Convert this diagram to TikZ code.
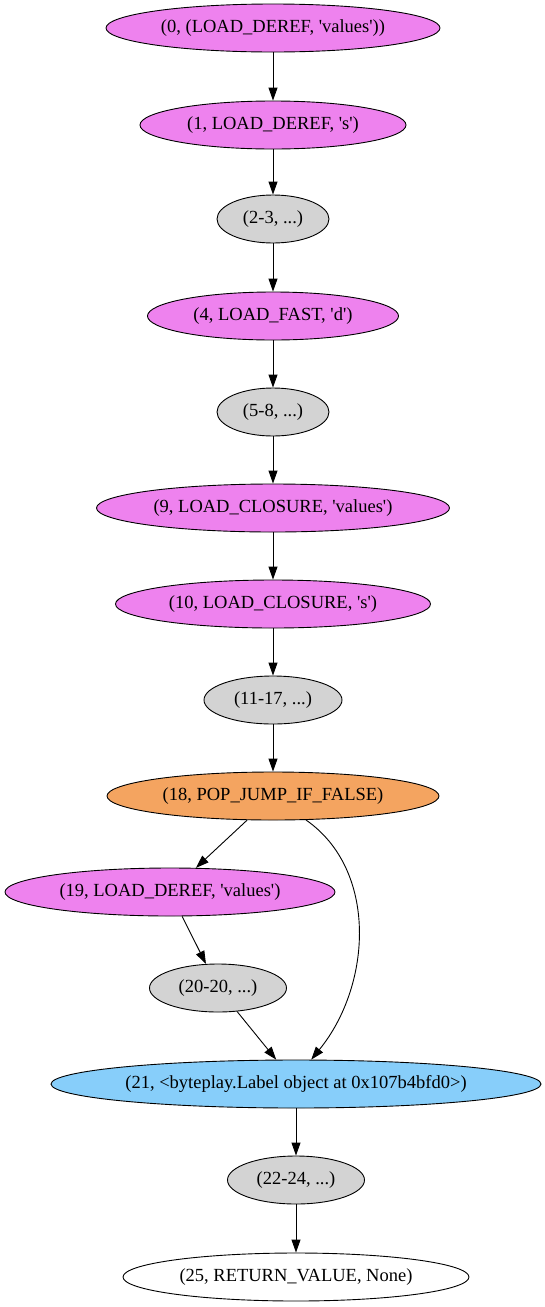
\documentclass[tikz,border=0pt]{standalone}
\usepackage{fontspec}
\setmainfont{Liberation Serif}
\usetikzlibrary{shapes.geometric,arrows.meta}
\definecolor{cviolet}{HTML}{EE82EE}
\definecolor{cgray}{HTML}{D3D3D3}
\definecolor{csandy}{HTML}{F4A460}
\definecolor{csky}{HTML}{87CEFA}
\newcommand\sq{\textquotesingle}
\tikzset{
  gnode/.style={ellipse,draw=black,line width=0.9pt,inner sep=0pt,minimum height=48pt,font=\fontsize{18.5}{20}\selectfont},
  vio/.style={gnode,fill=cviolet},
  gry/.style={gnode,fill=cgray},
  sandy/.style={gnode,fill=csandy},
  sky/.style={gnode,fill=csky},
  wht/.style={gnode,fill=white},
  edge/.style={draw=black,line width=0.9pt,-{Triangle[length=13pt,width=9pt]}}
}
\begin{document}
\begin{tikzpicture}[x=1pt,y=-1pt]
\useasboundingbox (0,0) rectangle (545,1307);
\node[vio,minimum width=334pt] (n0) at (273,28) {(0, (LOAD\_DEREF, \sq values\sq))};
\node[vio,minimum width=266pt] (n1) at (273,125) {(1, LOAD\_DEREF, \sq s\sq)};
\node[gry,minimum width=112pt] (n2) at (273,219) {(2-3, ...)};
\node[vio,minimum width=251pt] (n4) at (273,316) {(4, LOAD\_FAST, \sq d\sq)};
\node[gry,minimum width=112pt] (n5) at (273,412) {(5-8, ...)};
\node[vio,minimum width=353pt] (n9) at (273,508) {(9, LOAD\_CLOSURE, \sq values\sq)};
\node[vio,minimum width=315pt] (n10) at (273,604) {(10, LOAD\_CLOSURE, \sq s\sq)};
\node[gry,minimum width=138pt] (n11) at (273,700) {(11-17, ...)};
\node[sandy,minimum width=332pt] (n18) at (273,796) {(18, POP\_JUMP\_IF\_FALSE)};
\node[vio,minimum width=330pt] (n19) at (170,892) {(19, LOAD\_DEREF, \sq values\sq)};
\node[gry,minimum width=137pt] (n20) at (218,988) {(20-20, ...)};
\node[sky,minimum width=490pt] (n21) at (296,1084) {(21, <byteplay.Label object at 0x107b4bfd0>)};
\node[gry,minimum width=137pt] (n22) at (296,1180) {(22-24, ...)};
\node[wht,minimum width=346pt] (n25) at (296,1277) {(25, RETURN\_VALUE, None)};
\draw[edge] (n0) -- (n1);
\draw[edge] (n1) -- (n2);
\draw[edge] (n2) -- (n4);
\draw[edge] (n4) -- (n5);
\draw[edge] (n5) -- (n9);
\draw[edge] (n9) -- (n10);
\draw[edge] (n10) -- (n11);
\draw[edge] (n11) -- (n18);
\draw[edge] (n18) -- (n19);
\draw[edge] (n19) -- (n20);
\draw[edge] (n20) -- (n21);
\draw[edge] (n18.-36) .. controls (378,870) and (372,985) .. (n21.58);
\draw[edge] (n21) -- (n22);
\draw[edge] (n22) -- (n25);
\end{tikzpicture}
\end{document}
